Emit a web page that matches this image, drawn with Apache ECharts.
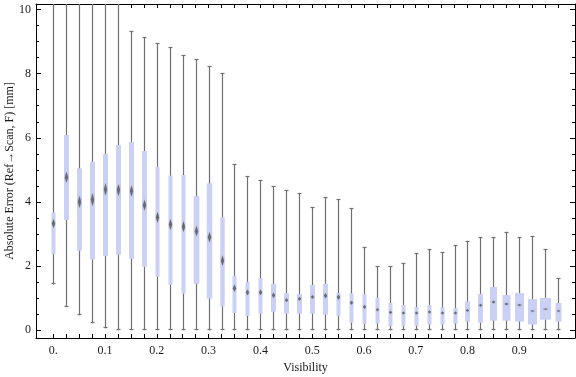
<!DOCTYPE html>
<html>
<head>
<meta charset="utf-8">
<script src="https://cdn.jsdelivr.net/npm/echarts@6/dist/echarts.min.js"></script>
<style>html,body{margin:0;padding:0;background:#fff}#c{width:576px;height:377px}</style>
</head>
<body>
<div id="c"></div>
<script>
// ---- data ----
const visibility = [0, 0.025, 0.05, 0.075, 0.1, 0.125, 0.15, 0.175, 0.2, 0.225,
  0.25, 0.275, 0.3, 0.325, 0.35, 0.375, 0.4, 0.425, 0.45, 0.475,
  0.5, 0.525, 0.55, 0.575, 0.6, 0.625, 0.65, 0.675, 0.7, 0.725,
  0.75, 0.775, 0.8, 0.825, 0.85, 0.875, 0.9, 0.925, 0.95, 0.975];
const whiskerLow = [1.43, 0.73, 0.47, 0.22, 0.06, 0, 0, 0, 0, 0,
  0, 0, 0, 0, 0, 0, 0, 0, 0, 0,
  0, 0, 0, 0, 0, 0, 0, 0, 0, 0,
  0, 0, 0, 0, 0, 0, 0, 0, 0, 0];
const quartile1 = [2.38, 3.44, 2.48, 2.21, 2.31, 2.36, 2.23, 1.98, 1.67, 1.42,
  1.14, 1.45, 0.99, 0.74, 0.54, 0.45, 0.51, 0.58, 0.52, 0.52,
  0.52, 0.49, 0.45, 0.24, 0.20, 0.21, 0.14, 0.14, 0.14, 0.18,
  0.18, 0.21, 0.27, 0.24, 0.30, 0.30, 0.27, 0.18, 0.33, 0.27];
const medians = [3.33, 4.77, 4.00, 4.07, 4.39, 4.37, 4.34, 3.90, 3.52, 3.30,
  3.23, 3.09, 2.90, 2.17, 1.31, 1.18, 1.18, 1.09, 0.94, 0.98,
  1.04, 1.08, 1.03, 0.86, 0.73, 0.64, 0.56, 0.54, 0.54, 0.57,
  0.54, 0.54, 0.62, 0.78, 0.88, 0.82, 0.79, 0.60, 0.66, 0.60];
const quartile3 = [3.67, 6.09, 5.05, 5.25, 5.49, 5.77, 5.87, 5.59, 5.10, 4.82,
  4.84, 4.18, 4.58, 3.52, 1.70, 1.51, 1.63, 1.45, 1.16, 1.13,
  1.41, 1.45, 1.16, 1.15, 1.12, 1.01, 0.85, 0.79, 0.72, 0.79,
  0.72, 0.69, 0.90, 1.13, 1.35, 1.10, 1.16, 0.97, 1.01, 0.85];
const whiskerHigh = [11.5, 12, 12, 12, 11.5, 11, 9.32, 9.14, 8.95, 8.82,
  8.57, 8.45, 8.23, 8.01, 5.18, 4.81, 4.68, 4.50, 4.37, 4.28,
  3.83, 4.15, 4.09, 3.81, 2.59, 1.99, 1.99, 2.09, 2.40, 2.53,
  2.44, 2.65, 2.79, 2.90, 2.90, 3.07, 2.90, 2.94, 2.53, 1.63];
// relative box weights (box widths relative to the typical box)
const boxWeight = [0.8, 1, 1, 1, 1, 1, 1, 1, 0.8, 0.8,
  0.8, 1.15, 1.1, 0.9, 0.8, 0.8, 0.8, 1, 1, 1,
  1, 1, 0.8, 0.8, 0.8, 0.8, 0.8, 0.8, 0.8, 0.8,
  0.8, 0.85, 1, 1, 1.4, 1.6, 1.8, 1.8, 2.2, 1.2];
// half-height of the median confidence diamond (value units)
const medianCI = [0.14, 0.17, 0.19, 0.2, 0.19, 0.19, 0.17, 0.17, 0.17, 0.17,
  0.17, 0.16, 0.16, 0.16, 0.11, 0.09, 0.09, 0.08, 0.06, 0.06,
  0.06, 0.08, 0.08, 0.06, 0.06, 0.05, 0.05, 0.045, 0.045, 0.045,
  0.045, 0.045, 0.045, 0.045, 0.045, 0.04, 0.03, 0.015, 0.015, 0.03];
const yMajorTicks = [0, 2, 4, 6, 8, 10];
const yMinorTicks = [0.5, 1, 1.5, 2.5, 3, 3.5, 4.5, 5, 5.5, 6.5, 7, 7.5, 8.5, 9, 9.5];
const xLabelTicks = [0, 0.1, 0.2, 0.3, 0.4, 0.5, 0.6, 0.7, 0.8, 0.9];

// ---- layout ----
const X_MIN = -0.0334, X_MAX = 1.0077;
const Y_MIN = -0.24, Y_MAX = 10.17;
const BASE_W = 0.00966;
const FONT = 'Liberation Serif';

const data = visibility.map((v, i) => [v, whiskerLow[i], quartile1[i], medians[i], quartile3[i], whiskerHigh[i], boxWeight[i], medianCI[i]]);

function renderItem(params, api) {
  const x = api.value(0);
  const lo = api.value(1), q1 = api.value(2), md = api.value(3), q3 = api.value(4), hi = api.value(5);
  const wt = api.value(6), ci = api.value(7);
  const pMed = api.coord([x, md]);
  const cx = Math.round(pMed[0]) + 0.5;
  const wPx = api.size([BASE_W * wt, 0])[0];
  const pLo = api.coord([x, lo]);
  const pHi = api.coord([x, Math.min(hi, Y_MAX)]);
  const pQ1 = api.coord([x, q1]);
  const pQ3 = api.coord([x, q3]);
  const pCiT = api.coord([x, md + ci]);
  const pCiB = api.coord([x, md - ci]);
  const wStyle = {stroke: '#707070', lineWidth: 1.2};
  const children = [
    {type: 'line', shape: {x1: cx, y1: pLo[1], x2: cx, y2: pHi[1]}, style: wStyle},
    {type: 'line', shape: {x1: cx - 2, y1: Math.round(pLo[1]) - 0.5, x2: cx + 2, y2: Math.round(pLo[1]) - 0.5}, style: wStyle}
  ];
  if (hi <= Y_MAX) {
    children.push({type: 'line', shape: {x1: cx - 2, y1: Math.round(pHi[1]) + 0.5, x2: cx + 2, y2: Math.round(pHi[1]) + 0.5}, style: wStyle});
  }
  children.push({type: 'rect', shape: {x: cx - wPx / 2, y: pQ3[1], width: wPx, height: pQ1[1] - pQ3[1]},
    style: {fill: '#cbd1f4'}});
  const hw = Math.max(1.6, wPx * 0.25);
  const top = Math.min(pCiT[1], pMed[1] - 0.7), bot = Math.max(pCiB[1], pMed[1] + 0.7);
  children.push({type: 'polygon', shape: {points: [[cx, top], [cx + hw, pMed[1]], [cx, bot], [cx - hw, pMed[1]]]},
    style: {fill: 'rgba(95,95,100,0.85)', shadowBlur: 1.5, shadowColor: 'rgba(95,95,100,0.6)'}});
  return {type: 'group', children: children};
}

const axisLabelStyle = {fontFamily: FONT, fontSize: 12, color: '#1a1a1a'};
const lineStyle = {color: '#000', width: 1};

const option = {
  animation: false,
  grid: {left: 36, right: 1, top: 4, bottom: 39, containLabel: false, outerBoundsMode: 'none'},
  xAxis: [
    {type: 'value', position: 'bottom', min: X_MIN, max: X_MAX,
      name: 'Visibility', nameLocation: 'middle', nameGap: 24, nameMoveOverlap: false,
      nameTextStyle: {fontFamily: FONT, fontSize: 12, color: '#1a1a1a'},
      axisLine: {show: true, onZero: false, lineStyle: lineStyle},
      axisTick: {show: true, inside: true, length: 4, customValues: visibility, lineStyle: lineStyle},
      axisLabel: Object.assign({show: true, margin: 7, customValues: xLabelTicks,
        formatter: v => (Math.abs(v) < 1e-9 ? '0.' : (+v).toFixed(1))}, axisLabelStyle),
      splitLine: {show: false}},
    {type: 'value', position: 'top', min: X_MIN, max: X_MAX,
      axisLine: {show: true, onZero: false, lineStyle: lineStyle},
      axisTick: {show: true, inside: true, length: 4, customValues: visibility, lineStyle: lineStyle},
      axisLabel: {show: false}, splitLine: {show: false}}
  ],
  yAxis: [
    {type: 'value', position: 'left', offset: 0, min: Y_MIN, max: Y_MAX,
      name: 'Absolute Error (Ref\u2192Scan, F) [mm]', nameLocation: 'middle', nameGap: 20, nameRotate: 90,
      nameMoveOverlap: false,
      nameTextStyle: {fontFamily: FONT, fontSize: 12, color: '#1a1a1a'},
      axisLine: {show: true, onZero: false, lineStyle: lineStyle},
      axisTick: {show: true, inside: true, length: 5, customValues: yMajorTicks, lineStyle: lineStyle},
      axisLabel: Object.assign({show: true, margin: 5, customValues: yMajorTicks}, axisLabelStyle),
      splitLine: {show: false}},
    {type: 'value', position: 'left', offset: 0, min: Y_MIN, max: Y_MAX,
      axisLine: {show: false, onZero: false},
      axisTick: {show: true, inside: true, length: 3, customValues: yMinorTicks, lineStyle: lineStyle},
      axisLabel: {show: false}, splitLine: {show: false}},
    {type: 'value', position: 'right', offset: 0, min: Y_MIN, max: Y_MAX,
      axisLine: {show: true, onZero: false, lineStyle: lineStyle},
      axisTick: {show: true, inside: true, length: 5, customValues: yMajorTicks, lineStyle: lineStyle},
      axisLabel: {show: false}, splitLine: {show: false}},
    {type: 'value', position: 'right', offset: 0, min: Y_MIN, max: Y_MAX,
      axisLine: {show: false, onZero: false},
      axisTick: {show: true, inside: true, length: 3, customValues: yMinorTicks, lineStyle: lineStyle},
      axisLabel: {show: false}, splitLine: {show: false}}
  ],
  series: [{
    type: 'custom', xAxisIndex: 0, yAxisIndex: 0, clip: true,
    renderItem: renderItem,
    encode: {x: 0, y: [1, 5]},
    data: data
  }]
};

const chart = echarts.init(document.getElementById('c'), null, {renderer: 'canvas'});
chart.setOption(option);
</script>
</body>
</html>
